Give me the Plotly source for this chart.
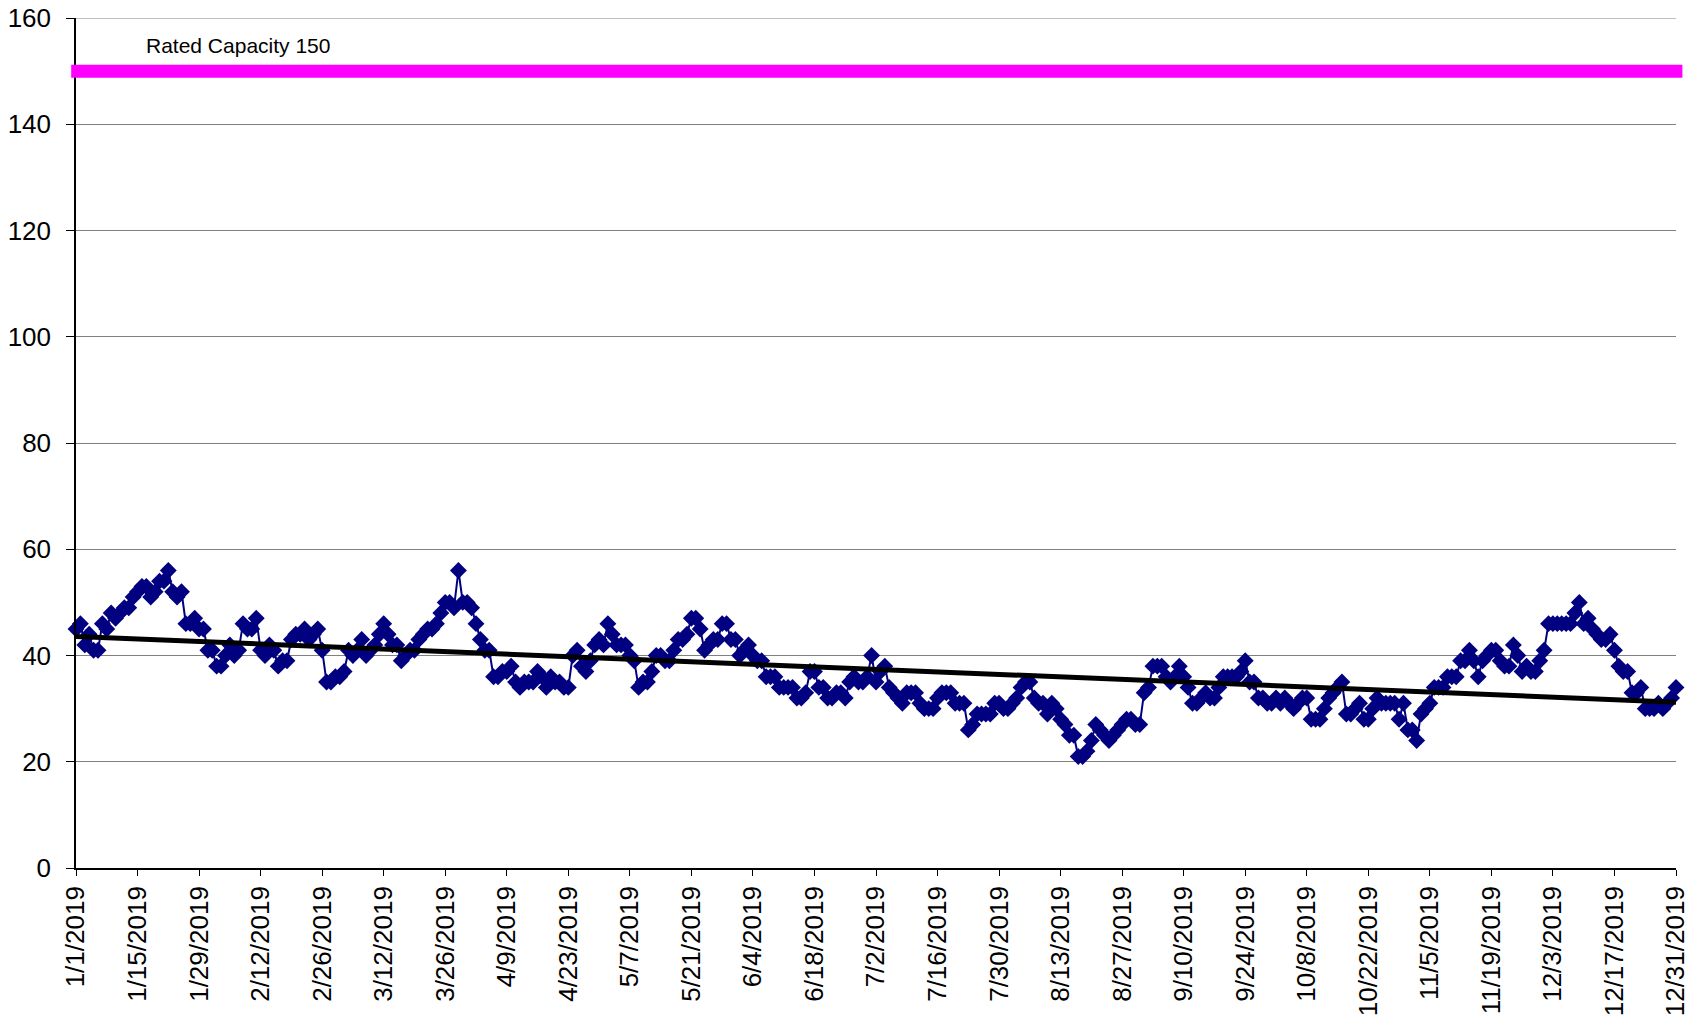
import numpy as np
import pandas as pd
import plotly.graph_objects as go

start_date = "2019-01-01"
end_date = "2019-12-31"

daily_values = [
    45, 46, 42, 44, 41, 41, 46, 45, 48, 47, 48, 49, 49, 51, 52, 53, 53, 51, 52, 54,
    54, 56, 52, 51, 52, 46, 46, 47, 45, 45, 41, 41, 38, 38, 40, 42, 40, 41, 46, 45,
    45, 47, 41, 40, 42, 41, 38, 39, 39, 43, 44, 44, 45, 43, 44, 45, 41, 35, 35, 36,
    36, 37, 41, 40, 41, 43, 40, 41, 42, 44, 46, 44, 42, 42, 39, 40, 41, 41, 43, 44,
    45, 45, 46, 48, 50, 50, 49, 56, 50, 50, 49, 46, 43, 41, 41, 36, 36, 37, 37, 38,
    35, 34, 35, 35, 35, 37, 36, 34, 36, 35, 35, 34, 34, 40, 41, 38, 37, 39, 42, 43,
    42, 46, 44, 42, 42, 42, 40, 39, 34, 35, 35, 37, 40, 40, 39, 39, 41, 43, 43, 44,
    47, 47, 45, 41, 42, 43, 43, 46, 46, 43, 43, 40, 41, 42, 40, 39, 39, 36, 36, 36,
    34, 34, 34, 34, 32, 32, 33, 37, 37, 34, 34, 32, 32, 33, 33, 32, 35, 36, 35, 35,
    36, 40, 35, 37, 38, 34, 33, 32, 31, 33, 33, 33, 31, 30, 30, 30, 32, 33, 33, 33,
    31, 31, 31, 26, 27, 29, 29, 29, 29, 31, 31, 30, 30, 31, 32, 34, 35, 35, 32, 31,
    31, 29, 31, 30, 28, 27, 25, 25, 21, 21, 22, 24, 27, 26, 25, 24, 25, 26, 27, 28,
    28, 27, 27, 33, 34, 38, 38, 38, 36, 35, 36, 38, 36, 34, 31, 31, 32, 33, 32, 32,
    34, 36, 36, 36, 36, 37, 39, 35, 35, 32, 32, 31, 31, 32, 31, 32, 31, 30, 31, 32,
    32, 28, 28, 28, 30, 32, 33, 34, 35, 29, 29, 30, 31, 28, 28, 30, 32, 31, 31, 31,
    31, 28, 31, 26, 26, 24, 29, 30, 31, 34, 34, 34, 36, 36, 36, 39, 39, 41, 39, 36,
    39, 40, 41, 41, 39, 38, 38, 42, 40, 37, 38, 37, 37, 39, 41, 46, 46, 46, 46, 46,
    46, 48, 50, 46, 47, 45, 44, 43, 43, 44, 41, 38, 37, 37, 33, 33, 34, 30, 30, 30,
    31, 30, 31, 32, 34,
]

rated_capacity = 150
capacity_label = "Rated Capacity 150"

tick_dates = [
    "2019-01-01", "2019-01-15", "2019-01-29", "2019-02-12", "2019-02-26", "2019-03-12",
    "2019-03-26", "2019-04-09", "2019-04-23", "2019-05-07", "2019-05-21", "2019-06-04",
    "2019-06-18", "2019-07-02", "2019-07-16", "2019-07-30", "2019-08-13", "2019-08-27",
    "2019-09-10", "2019-09-24", "2019-10-08", "2019-10-22", "2019-11-05", "2019-11-19",
    "2019-12-03", "2019-12-17", "2019-12-31",
]
tick_labels = [
    "1/1/2019", "1/15/2019", "1/29/2019", "2/12/2019", "2/26/2019", "3/12/2019",
    "3/26/2019", "4/9/2019", "4/23/2019", "5/7/2019", "5/21/2019", "6/4/2019",
    "6/18/2019", "7/2/2019", "7/16/2019", "7/30/2019", "8/13/2019", "8/27/2019",
    "9/10/2019", "9/24/2019", "10/8/2019", "10/22/2019", "11/5/2019", "11/19/2019",
    "12/3/2019", "12/17/2019", "12/31/2019",
]
y_ticks = [0, 20, 40, 60, 80, 100, 120, 140, 160]

dates = pd.date_range(start_date, end_date, freq="D")
idx = np.arange(len(daily_values))
slope, intercept = np.polyfit(idx, daily_values, 1)
trend = intercept + slope * idx

FONT = "Liberation Sans, Arial, sans-serif"

fig = go.Figure()
fig.add_trace(go.Scatter(
    x=dates, y=daily_values, mode="lines+markers",
    line=dict(color="#000080", width=2),
    marker=dict(symbol="diamond", size=13, color="#000080"),
    cliponaxis=False, showlegend=False,
))
fig.add_trace(go.Scatter(
    x=dates, y=trend, mode="lines",
    line=dict(color="black", width=5),
    showlegend=False,
))

# top gridline at the range edge
fig.add_shape(type="line", xref="paper", yref="y", x0=0, x1=1,
              y0=y_ticks[-1], y1=y_ticks[-1],
              line=dict(color="#808080", width=1), layer="below")
fig.add_shape(type="line", xref="paper", yref="y", x0=-0.003, x1=1.004,
              y0=rated_capacity, y1=rated_capacity,
              line=dict(color="#FF00FF", width=13), layer="above")
fig.add_annotation(text=capacity_label, xref="paper", yref="y",
                   x=0.0425, y=rated_capacity + 4.8, xanchor="left", yanchor="middle",
                   showarrow=False, font=dict(family=FONT, size=21, color="black"))

fig.update_layout(
    width=1699, height=1021,
    margin=dict(l=76, r=23, t=18, b=153),
    plot_bgcolor="white", paper_bgcolor="white",
    font=dict(family=FONT, color="black"),
)
fig.update_xaxes(
    type="date", range=[start_date, end_date], automargin=False,
    tickmode="array", tickvals=tick_dates, ticktext=tick_labels,
    tickangle=-90, tickfont=dict(size=26, family=FONT, color="black"),
    showgrid=False, showline=True, linecolor="black", linewidth=1.5,
    ticks="outside", ticklen=6, tickcolor="black", tickwidth=1,
    zeroline=False, ticklabeloverflow="allow",
)
fig.update_yaxes(
    range=[0, 160], tickmode="array", tickvals=y_ticks, automargin=False,
    tickfont=dict(size=26, family=FONT, color="black"),
    showgrid=True, gridcolor="#808080", gridwidth=1,
    showline=True, linecolor="black", linewidth=1.5,
    ticks="outside", ticklen=8, tickcolor="black", tickwidth=1,
    zeroline=False, ticklabelstandoff=10, ticklabeloverflow="allow",
)

fig.write_html("out.html", config={"displayModeBar": False},
               post_script="document.body.style.margin='0';")
